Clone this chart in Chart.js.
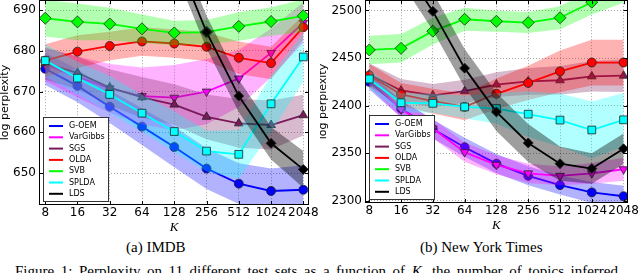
<!DOCTYPE html>
<html>
<head>
<meta charset="utf-8">
<script src="https://cdn.jsdelivr.net/npm/chart.js@4.4.1/dist/chart.umd.min.js"></script>
<style>
  body { margin: 0; width: 640px; height: 273px; overflow: hidden; background: #fff; position: relative; }
  .panel { position: absolute; }
  .sub { position: absolute; font: 15px "Liberation Serif", serif; line-height: 15px; color: #000; white-space: nowrap; }
  .caption { position: absolute; left: 15px; width: 603px; font: 15px "Liberation Serif", serif; line-height: 15px; text-align: justify; text-align-last: justify; white-space: nowrap; }
</style>
</head>
<body>
<div class="panel" style="left:0;top:-10px;width:320px;height:245px"><canvas id="imdbChart"></canvas></div>
<div class="panel" style="left:320px;top:-10px;width:320px;height:243px"><canvas id="nytChart"></canvas></div>
<div class="sub" style="left:126px;top:240px">(a) IMDB</div>
<div class="sub" style="left:420px;top:240px">(b) New York Times</div>
<div class="caption" style="top:264px">Figure 1: Perplexity on 11 different test sets as a function of <i>K</i>, the number of topics inferred</div>
<script>
const K = [8, 16, 32, 64, 128, 256, 512, 1024, 2048];
const methods = ["G-OEM", "VarGibbs", "SGS", "OLDA", "SVB", "SPLDA", "LDS"];

// IMDB: mean log perplexity per K
const imdb_goem = [675.6, 671.4, 666.3, 661.4, 656.4, 651.1, 647.4, 645.6, 645.9];
const imdb_vargibbs = [676.6, 673.6, 670.8, 668.9, 668.5, 670.0, 673.2, 679.5, 686.9];
const imdb_sgs = [676.9, 674.6, 671.0, 668.6, 666.8, 663.8, 662.2, 661.8, 664.2];
const imdb_olda = [677.6, 679.8, 681.2, 682.3, 681.8, 681.0, 678.3, 677.0, 685.8];
const imdb_svb = [688.0, 687.1, 686.6, 685.4, 684.4, 684.6, 686.0, 687.2, 688.6];
const imdb_splda = [677.6, 673.3, 669.3, 664.7, 660.2, 655.4, 654.6, 667.0, 678.5];
const imdb_lds = [810, 778, 750, 725, 704, 684.6, 668.9, 657.3, 650.9];
// IMDB: spread of the shaded band
const imdb_goem_sd = [4, 4, 4, 4.5, 5, 5, 5, 5.5, 6];
const imdb_vargibbs_sd = [4, 5, 6, 7, 8, 8, 7, 6, 5];
const imdb_sgs_sd = [4, 4, 4.5, 5, 5, 5.5, 6, 6, 5];
const imdb_olda_sd = [4, 4, 3.5, 3.5, 3.5, 3.5, 4, 4, 3];
const imdb_svb_sd = [4.5, 4.5, 4, 3.5, 3, 3, 3.5, 3.5, 4];
const imdb_splda_sd = [4, 4, 4.5, 4.5, 5, 5, 6, 7, 6];
const imdb_lds_sd = [4, 4, 4, 4, 4, 4, 4, 4, 4.5];

// New York Times: mean log perplexity per K
const nyt_goem = [2425, 2397, 2375.5, 2356.4, 2339.2, 2326.4, 2316.7, 2309, 2305];
const nyt_vargibbs = [2428, 2396.3, 2376, 2351.3, 2338, 2329, 2326.4, 2329, 2333.3];
const nyt_sgs = [2432.6, 2416, 2410.8, 2415.2, 2422.2, 2425.6, 2426.7, 2430.8, 2431.5];
const nyt_olda = [2431.8, 2411.8, 2404.9, 2398.7, 2412.5, 2423.9, 2436, 2445.3, 2445.3];
const nyt_svb = [2458.5, 2460.2, 2478.2, 2490.7, 2488.6, 2487.2, 2492.3, 2508.6, 2522];
const nyt_splda = [2428, 2403.1, 2402.5, 2398.7, 2397, 2391.1, 2384.9, 2374.5, 2385.2];
const nyt_lds = [2610, 2550, 2499, 2439.4, 2393.5, 2360.9, 2339.2, 2334, 2354.8];
// New York Times: spread of the shaded band
const nyt_goem_sd = [8, 9, 10, 10, 10, 10, 10, 11, 11];
const nyt_vargibbs_sd = [8, 9, 10, 10, 10, 10, 10, 11, 12];
const nyt_sgs_sd = [12, 12, 12, 12, 13, 14, 15, 16, 17];
const nyt_olda_sd = [12, 12, 13, 14, 16, 18, 22, 24, 24];
const nyt_svb_sd = [15, 15, 14, 12, 11, 11, 12, 13, 14];
const nyt_splda_sd = [10, 10, 10, 12, 16, 24, 28, 30, 28];
const nyt_lds_sd = [20, 20, 20, 20, 20, 20, 18, 16, 16];

const imdbTicks = [650, 660, 670, 680, 690];
const nytTicks = [2300, 2350, 2400, 2450, 2500];

const colors = ["#0000ff", "#ff00ff", "#7a1a5a", "#ff0000", "#00ff00", "#00ffff", "#000000"];
const markers = [
  { style: "circle", r: 4.5, rot: 0 },
  { style: "triangle", r: 5, rot: 180 },
  { style: "triangle", r: 5, rot: 0 },
  { style: "circle", r: 4.5, rot: 0 },
  { style: "rectRot", r: 6, rot: 0 },
  { style: "rect", r: 5.5, rot: 0 },
  { style: "rectRot", r: 5, rot: 0 },
];

function fade(hex, a) {
  const n = parseInt(hex.slice(1), 16);
  return `rgba(${(n >> 16) & 255},${(n >> 8) & 255},${n & 255},${a})`;
}

function buildDatasets(means, spreads) {
  const sets = [];
  methods.forEach((name, s) => {
    const base = (methods.length - s) * 2;
    sets.push({
      label: name + " hi",
      data: K.map((k, i) => ({ x: k, y: means[s][i] + spreads[s][i] })),
      borderWidth: 0,
      pointRadius: 0,
      fill: "+1",
      backgroundColor: fade(colors[s], s === 6 ? 0.38 : 0.3),
      order: base,
    });
    sets.push({
      label: name + " lo",
      data: K.map((k, i) => ({ x: k, y: means[s][i] - spreads[s][i] })),
      borderWidth: 0,
      pointRadius: 0,
      fill: false,
      order: base,
    });
    sets.push({
      label: name,
      data: K.map((k, i) => ({ x: k, y: means[s][i] })),
      borderColor: colors[s],
      backgroundColor: colors[s],
      borderWidth: 1.8,
      pointStyle: markers[s].style,
      pointRotation: markers[s].rot,
      pointRadius: markers[s].r,
      pointBorderColor: "#222",
      pointBorderWidth: 0.8,
      fill: false,
      order: base - 1,
    });
  });
  return sets;
}

const framePlugin = {
  id: "frame",
  afterDatasetsDraw(chart) {
    const { ctx, chartArea: a, scales } = chart;
    ctx.save();
    ctx.strokeStyle = "#000";
    ctx.lineWidth = 1;
    // little inward ticks like the original
    scales.x.ticks.forEach((t) => {
      const px = Math.round(scales.x.getPixelForValue(t.value)) + 0.5;
      ctx.beginPath();
      ctx.moveTo(px, a.bottom); ctx.lineTo(px, a.bottom - 4);
      ctx.moveTo(px, a.top); ctx.lineTo(px, a.top + 4);
      ctx.stroke();
    });
    scales.y.ticks.forEach((t) => {
      const py = Math.round(scales.y.getPixelForValue(t.value)) + 0.5;
      ctx.beginPath();
      ctx.moveTo(a.left, py); ctx.lineTo(a.left + 4, py);
      ctx.moveTo(a.right, py); ctx.lineTo(a.right - 4, py);
      ctx.stroke();
    });
    ctx.strokeRect(Math.round(a.left) + 0.5, Math.round(a.top) + 0.5, Math.round(a.width) - 1, Math.round(a.height) - 1);
    ctx.restore();
  },
};

const legendPlugin = {
  id: "boxLegend",
  afterDraw(chart) {
    const { ctx, chartArea: a } = chart;
    const w = 65, h = 84;
    const x = Math.round(a.left) + 4, y = Math.round(a.bottom) - 4 - h;
    ctx.save();
    ctx.fillStyle = "#fff";
    ctx.fillRect(x, y, w, h);
    ctx.strokeStyle = "#333";
    ctx.lineWidth = 1;
    ctx.strokeRect(x + 0.5, y + 0.5, w, h);
    ctx.font = "8px 'DejaVu Sans'";
    ctx.textBaseline = "middle";
    methods.forEach((name, s) => {
      const ly = y + 9 + s * 11.3;
      ctx.strokeStyle = colors[s];
      ctx.lineWidth = 2;
      ctx.beginPath();
      ctx.moveTo(x + 6, ly);
      ctx.lineTo(x + 20, ly);
      ctx.stroke();
      ctx.fillStyle = "#000";
      ctx.fillText(name, x + 26, ly);
    });
    ctx.restore();
  },
};

function makeChart(id, means, spreads, yTicks, yMin, yMax, xMin, xMax, axisW, padRight, titlePad) {
  const tickFont = { family: "'DejaVu Sans'", size: 12 };
  return new Chart(document.getElementById(id).getContext("2d"), {
    type: "line",
    data: { datasets: buildDatasets(means, spreads) },
    plugins: [framePlugin, legendPlugin],
    options: {
      responsive: true,
      maintainAspectRatio: false,
      animation: false,
      layout: { padding: { top: 8, right: padRight, bottom: 0, left: 0 } },
      plugins: { legend: { display: false }, tooltip: { enabled: false } },
      scales: {
        x: {
          type: "logarithmic",
          min: xMin,
          max: xMax,
          afterBuildTicks: (s) => { s.ticks = K.map((v) => ({ value: v })); },
          afterFit: (s) => { s.height = 30; },
          ticks: {
            autoSkip: false, maxRotation: 0, minRotation: 0, padding: 1,
            color: "#000", font: tickFont,
            callback: (v) => String(v),
          },
          grid: { color: "rgba(0,0,0,0.45)", lineWidth: 0.8, drawTicks: false },
          border: { display: false, dash: [1, 2] },
          title: {
            display: true, text: "K", color: "#000",
            font: { family: "'Liberation Serif'", size: 13, style: "italic", lineHeight: 1.2 },
            padding: { top: 0, bottom: 0 },
          },
        },
        y: {
          type: "linear",
          min: yMin,
          max: yMax,
          afterBuildTicks: (s) => { s.ticks = yTicks.map((v) => ({ value: v })); },
          afterFit: (s) => { s.width = axisW; },
          ticks: { padding: 3, color: "#000", font: tickFont, callback: (v) => String(v) },
          grid: { color: "rgba(0,0,0,0.45)", lineWidth: 0.8, drawTicks: false },
          border: { display: false, dash: [1, 2] },
          title: {
            display: true, text: "log perplexity", color: "#000",
            font: { family: "'DejaVu Sans'", size: 11, lineHeight: 1 },
            padding: { top: titlePad, bottom: 0 },
          },
        },
      },
    },
  });
}

makeChart(
  "imdbChart",
  [imdb_goem, imdb_vargibbs, imdb_sgs, imdb_olda, imdb_svb, imdb_splda, imdb_lds],
  [imdb_goem_sd, imdb_vargibbs_sd, imdb_sgs_sd, imdb_olda_sd, imdb_svb_sd, imdb_splda_sd, imdb_lds_sd],
  imdbTicks, 642.16, 692.43, 7.0, 2314, 39, 11, 0
);
makeChart(
  "nytChart",
  [nyt_goem, nyt_vargibbs, nyt_sgs, nyt_olda, nyt_svb, nyt_splda, nyt_lds],
  [nyt_goem_sd, nyt_vargibbs_sd, nyt_sgs_sd, nyt_olda_sd, nyt_svb_sd, nyt_splda_sd, nyt_lds_sd],
  nytTicks, 2297.9, 2510.7, 7.29, 2233, 45, 10, -2
);
</script>
</body>
</html>
